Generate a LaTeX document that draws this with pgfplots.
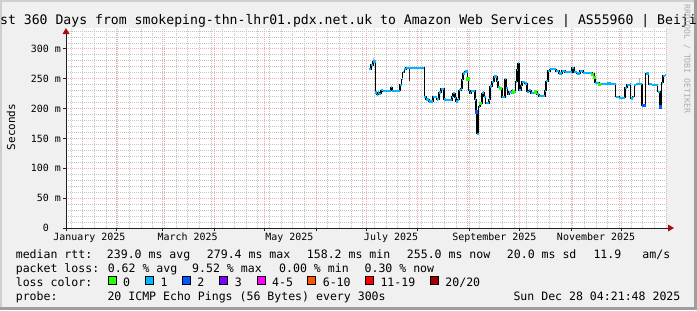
\documentclass[border=0pt]{standalone}
\usepackage{pgfplots}
\pgfplotsset{compat=1.18}
\usepackage{pgfplotstable}
\usepackage{fontspec}
\setmainfont{DejaVu Sans Mono}
\newfontfamily\dmono{DejaVu Sans Mono}
\definecolor{bgc}{HTML}{F0F0F0}
\definecolor{shadea}{HTML}{CFCFCF}
\definecolor{shadeb}{HTML}{9E9E9E}
\definecolor{mgridc}{HTML}{F4AAAA}
\definecolor{gridc}{HTML}{C4C4C4}
\definecolor{axisc}{HTML}{202020}
\definecolor{arrowc}{HTML}{A01010}
\definecolor{lc0}{HTML}{26FF00}
\definecolor{lc1}{HTML}{00B8FF}
\definecolor{lc2}{HTML}{0059FF}
\definecolor{lc3}{HTML}{7E00FF}
\definecolor{lc4}{HTML}{FF00FF}
\definecolor{lc6}{HTML}{FF5500}
\definecolor{lc11}{HTML}{FF0000}
\definecolor{lc20}{HTML}{A10000}
\newcommand\ticfont{\dmono\fontsize{9.97bp}{11bp}\selectfont}
\newcommand\legfont{\dmono\fontsize{11.55bp}{13bp}\selectfont}
\newcommand\titfont{\dmono\fontsize{13.15bp}{15bp}\selectfont}

\pgfplotstableread{
day ms
184.0 266
185.0 273
186.2 279
187.4 279
187.6 227
188.6 223
189.4 227
190.0 225
191.0 231
192.2 229
193.4 229
194.6 230
196.4 230
197.0 236
197.8 230
200.0 230
202.0 230
202.4 240
203.4 249
204.0 261
205.0 266
206.0 268
208.8 268
212.0 268
215.4 268
217.0 220
218.0 215
219.8 212
221.4 212
222.2 220
223.4 220
224.3 215
225.2 216
225.8 227
227.0 233
228.2 233
228.8 215
230.0 214
233.0 214
233.6 220
234.2 226
235.4 218
236.0 212
236.9 215
237.8 231
239.0 233
239.6 248
240.2 259
241.1 262
242.3 262
242.9 250
243.5 231
244.1 226
245.0 230
246.8 230
247.4 215
248.0 195
248.6 158
249.5 203
250.4 209
251.6 226
252.2 227
252.8 220
253.7 209
255.2 209
255.8 215
256.4 237
257.6 245
258.8 254
260.0 254
260.6 246
261.2 236
262.4 234
263.6 219
264.8 219
265.4 249
266.0 234
266.9 224
267.8 228
269.0 227
269.6 231
270.2 228
271.7 245
272.6 265
273.2 276
273.8 231
275.0 238
275.6 245
277.1 242
278.6 228
279.8 231
281.0 226
282.2 226
283.4 228
284.6 224
285.8 221
288.2 221
289.4 230
290.0 246
291.2 263
292.4 266
294.2 266
296.0 263
297.8 259
299.6 263
301.4 261
305.0 261
305.6 268
306.8 261
308.6 259
310.4 263
312.2 260
316.4 260
317.6 258
318.8 253
319.4 243
321.8 241
324.2 241
326.6 242
329.0 241
331.4 241
331.8 220
333.8 218
336.2 218
337.4 235
338.6 240
340.4 241
340.8 217
342.0 220
343.0 240
344.0 241
346.4 241
347.6 206
348.5 206
349.7 259
350.9 259
351.5 241
353.6 240
356.3 240
357.0 228
358.4 203
359.4 243
360.2 255
361.4 256
362.0 256
}\median

\pgfplotstableread{
day ms
242.9 250
250.4 209
262.6 234
270.2 228
283.4 228
317.6 258
318.8 253
321.8 241
}\greenpts

\pgfplotstableread{
day ms
248.0 195
348.5 206
358.4 203
}\bluepts

\begin{document}
\begin{tikzpicture}[x=1bp,y=1bp]
\useasboundingbox (0,0) rectangle (697,310);
\begin{scope}
\clip (0,0) rectangle (697,310);
\fill[bgc] (0,0) rectangle (697,310);
\fill[shadea] (0,0) rectangle (2,310);
\fill[shadea] (0,308) rectangle (697,310);
\fill[shadeb] (0,0) rectangle (697,3.5);
\fill[shadeb] (694,0) rectangle (697,310);
\fill[white] (66,82) rectangle (666,282);
\node[font=\titfont, anchor=base, inner sep=0pt] at (348.5,286) {Last 360 Days from smokeping-thn-lhr01.pdx.net.uk to Amazon Web Services | AS55960 | Beijing};
\node[font=\dmono\fontsize{8.2bp}{9bp}\selectfont, text=black!32, rotate=-90, inner sep=0pt] at (687,251) {RRDTOOL / TOBI OETIKER};
\node[font=\dmono\fontsize{11bp}{12bp}\selectfont, rotate=90, inner sep=0pt] at (11,183) {Seconds};
% legend
\begin{scope}[every node/.style={font=\legfont, anchor=base west, inner sep=0pt}]
\node at (15.6,51.3) {median rtt:};
\node at (106.7,51.3) {239.0 ms avg};
\node at (206.7,51.3) {279.4 ms max};
\node at (306.7,51.3) {158.2 ms min};
\node at (406.7,51.3) {255.0 ms now};
\node at (506.7,51.3) {20.0 ms sd};
\node at (593.3,51.3) {11.9};
\node at (642.2,51.3) {am/s};
\node at (15.6,37.3) {packet loss:};
\node at (107.6,37.3) {0.62 \% avg};
\node at (192,37.3) {9.52 \% max};
\node at (279,37.3) {0.00 \% min};
\node at (364.4,37.3) {0.30 \% now};
\node at (15.6,23.3) {loss color:};
\node at (123,23.3) {0};
\node at (160.3,23.3) {1};
\node at (197.2,23.3) {2};
\node at (234.6,23.3) {3};
\node at (271.9,23.3) {4-5};
\node at (322.6,23.3) {6-10};
\node at (380.3,23.3) {11-19};
\node at (445.2,23.3) {20/20};
\node at (15.6,9.3) {probe:};
\node at (107.3,9.3) {20 ICMP Echo Pings (56 Bytes) every 300s};
\node at (513.3,9.3) {Sun Dec 28 04:21:48 2025};
\end{scope}
\foreach \bx/\bc in {108/lc0,145.3/lc1,182.2/lc2,219.6/lc3,256.9/lc4,307.6/lc6,365.3/lc11,430.2/lc20}{
  \filldraw[fill=\bc, draw=black, line width=0.8bp] (\bx,25.6) rectangle ++(8,8);
}
\end{scope}
\begin{axis}[
  at={(66bp,82bp)}, anchor=south west, scale only axis,
  width=600bp, height=200bp,
  xmin=2, xmax=362, ymin=0, ymax=335,
  axis x line*=bottom, axis y line*=left,
  axis line style={draw=none},
  xtick={32,60,91,121,152,182,213,244,274,305,335},
  xticklabels={},
  minor xtick={5,12,...,362},
  extra x ticks={16,75,136,197,259,320},
  extra x tick labels={January 2025,March 2025,May 2025,July 2025,September 2025,November 2025},
  extra x tick style={grid=none, major tick length=0pt},
  ytick={0,50,...,300},
  yticklabels={{0\hphantom{\ m}},{50 m},{100 m},{150 m},{200 m},{250 m},{300 m}},
  minor ytick={10,20,30,40,60,70,80,90,110,120,130,140,160,170,180,190,210,220,230,240,260,270,280,290,310,320,330},
  grid=both,
  major grid style={mgridc, line width=0.8bp, dash pattern=on 1bp off 1bp},
  minor grid style={gridc, line width=0.8bp, dash pattern=on 1bp off 1bp},
  tick align=outside, major tick length=3bp, minor tick length=0pt,
  tick style={axisc, line width=0.8bp},
  ticklabel style={font=\ticfont, inner sep=0pt},
  yticklabel style={anchor=east, xshift=-2bp},
  xticklabel style={anchor=north, yshift=-5bp},
]
\addplot[gray!55, line width=1.6bp, forget plot] coordinates {(186.6,279) (186.6,285)};
\addplot[gray!60, line width=1.2bp, forget plot] coordinates {(346.2,241) (346.2,252)};
\addplot[black!85, line width=1bp, forget plot] coordinates {(208.1,268) (208.1,247)};
\addplot[black, line width=1.1bp, const plot] table[x=day,y=ms] {\median};
\addplot[lc1, line width=2.3bp, jump mark left] table[x=day,y=ms] {\median};
\addplot[only marks, mark=square*, mark size=1.2bp, color=lc0] table[x=day,y=ms] {\greenpts};
\addplot[only marks, mark=square*, mark size=1.2bp, color=lc2] table[x=day,y=ms] {\bluepts};
\end{axis}
\draw[axisc, line width=1bp] (63,82) -- (668,82);
\fill[arrowc] (668,78.5) -- (674,82) -- (668,85.5) -- cycle;
\draw[axisc, line width=1bp] (66,79) -- (66,277);
\fill[arrowc] (62.5,276) -- (66,282) -- (69.5,276) -- cycle;
\end{tikzpicture}
\end{document}
